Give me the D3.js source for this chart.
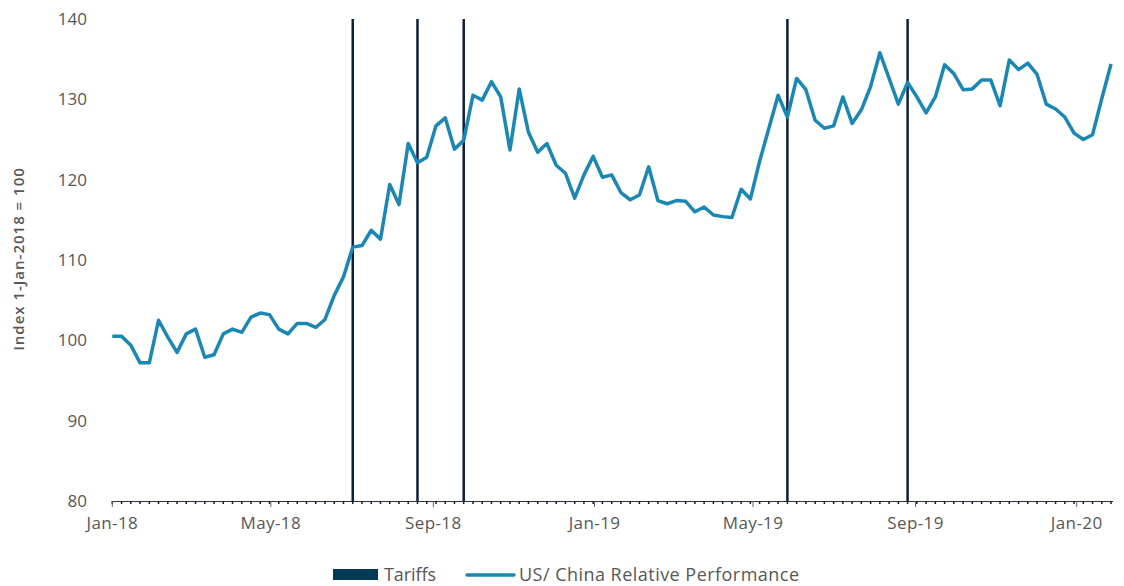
<!DOCTYPE html>
<html>
<head>
<meta charset="utf-8">
<script src="https://cdn.jsdelivr.net/npm/d3@7"></script>
<style>
  body { margin: 0; background: #fff; }
  text { font-family: "Open Sans", sans-serif; fill: #575757; }
</style>
</head>
<body>
<div id="graph"></div>
<script>
"use strict"

// weekly index values, starting Monday 1 Jan 2018
var startDate = "2018-01-01"
var values = [
  100.5, 100.5, 99.4, 97.2, 97.2, 102.5, 100.4, 98.5, 100.8, 101.4,
  97.9, 98.2, 100.8, 101.4, 101.0, 102.9, 103.4, 103.2, 101.4, 100.8,
  102.1, 102.1, 101.6, 102.6, 105.6, 107.9, 111.6, 111.8, 113.7, 112.6,
  119.4, 116.9, 124.5, 122.1, 122.8, 126.7, 127.7, 123.8, 124.9, 130.5,
  129.9, 132.2, 130.3, 123.7, 131.3, 125.9, 123.4, 124.5, 121.8, 120.8,
  117.7, 120.6, 122.9, 120.3, 120.6, 118.4, 117.5, 118.1, 121.6, 117.4,
  117.0, 117.4, 117.3, 116.0, 116.6, 115.6, 115.4, 115.3, 118.8, 117.6,
  122.3, 126.4, 130.5, 127.8, 132.6, 131.2, 127.4, 126.4, 126.7, 130.3,
  127.0, 128.7, 131.6, 135.8, 132.6, 129.4, 132.1, 130.3, 128.3, 130.3,
  134.3, 133.2, 131.2, 131.3, 132.4, 132.4, 129.2, 134.9, 133.7, 134.5,
  133.1, 129.4, 128.8, 127.8, 125.8, 125.0, 125.6, 130.1, 134.4
]
var tariffDates = ["2018-07-02", "2018-08-20", "2018-09-24", "2019-05-27", "2019-08-26"]
var yTicks = [80, 90, 100, 110, 120, 130, 140]
var xTickDates = ["2018-01-01", "2018-05-01", "2018-09-01", "2019-01-01", "2019-05-01", "2019-09-01", "2020-01-01"]
var seriesName = "US/ China Relative Performance"
var tariffName = "Tariffs"

var width = 1124, height = 586
var lineColor = "#1a87b5", tariffColor = "#0c1f3b"

main()

function main() {
    let parse = d3.utcParse("%Y-%m-%d")
    let start = parse(startDate)
    let data = values.map(function(v, i) {
        return {date: d3.utcWeek.offset(start, i), value: v}
    })

    let svg = d3.select("#graph").append("svg")
        .attr("width", width).attr("height", height)

    // Jan-18 .. Jan-20 pinned to the reference tick positions
    let x = d3.scaleUtc()
        .domain([parse("2018-01-01"), parse("2020-01-01")])
        .range([112.3, 1076.7])
    let y = d3.scaleLinear().domain([80, 140]).range([501, 19])

    // y axis labels only
    svg.append("g")
        .selectAll("text")
        .data(yTicks)
        .enter().append("text")
        .attr("x", 87)
        .attr("y", function(d) { return y(d) })
        .attr("dy", "0.35em")
        .attr("text-anchor", "end")
        .style("font-size", "17px")
        .text(function(d) { return d })

    svg.append("text")
        .attr("transform", "translate(24," + 259 + ") rotate(-90)")
        .attr("text-anchor", "middle")
        .style("font-size", "15px")
        .style("font-weight", "600")
        .style("letter-spacing", "1px")
        .text("Index 1-Jan-2018 = 100")

    // x axis: weekly minor ticks + monthly major ticks
    let axisEnd = x(data[data.length - 1].date) + 2
    svg.append("line")
        .attr("x1", x(start)).attr("x2", axisEnd)
        .attr("y1", 501.5).attr("y2", 501.5)
        .attr("stroke", "#333").attr("stroke-width", 1)

    svg.append("g")
        .selectAll("line")
        .data(data)
        .enter().append("line")
        .attr("x1", function(d) { return x(d.date) })
        .attr("x2", function(d) { return x(d.date) })
        .attr("y1", 501).attr("y2", 504)
        .attr("stroke", tariffColor).attr("stroke-width", 1.5)

    let majors = xTickDates.map(parse)
    svg.append("g")
        .selectAll("line")
        .data(majors)
        .enter().append("line")
        .attr("x1", function(d) { return x(d) })
        .attr("x2", function(d) { return x(d) })
        .attr("y1", 501).attr("y2", 507)
        .attr("stroke", "#666").attr("stroke-width", 1)

    svg.append("g")
        .selectAll("text")
        .data(majors)
        .enter().append("text")
        .attr("x", function(d) { return x(d) })
        .attr("y", 529)
        .attr("text-anchor", "middle")
        .style("font-size", "17px")
        .style("letter-spacing", "0.4px")
        .text(d3.utcFormat("%b-%y"))

    // tariff markers
    svg.append("g")
        .selectAll("line")
        .data(tariffDates.map(parse))
        .enter().append("line")
        .attr("x1", function(d) { return x(d) })
        .attr("x2", function(d) { return x(d) })
        .attr("y1", y(140)).attr("y2", y(80))
        .attr("stroke", tariffColor).attr("stroke-width", 2.5)

    let line = d3.line()
        .x(function(d) { return x(d.date) })
        .y(function(d) { return y(d.value) })

    svg.append("path")
        .datum(data)
        .attr("fill", "none")
        .attr("stroke", lineColor)
        .attr("stroke-width", 3.5)
        .attr("stroke-linejoin", "round")
        .attr("d", line)

    // legend
    let legend = svg.append("g")
    legend.append("rect")
        .attr("x", 333).attr("y", 569).attr("width", 45).attr("height", 11)
        .attr("fill", "#003a57")
    legend.append("text")
        .attr("x", 384).attr("y", 581)
        .style("font-size", "18px")
        .attr("textLength", 52)
        .attr("lengthAdjust", "spacing")
        .text(tariffName)
    legend.append("line")
        .attr("x1", 467).attr("x2", 514).attr("y1", 575).attr("y2", 575)
        .attr("stroke", lineColor).attr("stroke-width", 3.5)
        .attr("stroke-linecap", "round")
    legend.append("text")
        .attr("x", 519).attr("y", 581)
        .style("font-size", "18px")
        .attr("textLength", 280)
        .attr("lengthAdjust", "spacing")
        .text(seriesName)
}
</script>
</body>
</html>
